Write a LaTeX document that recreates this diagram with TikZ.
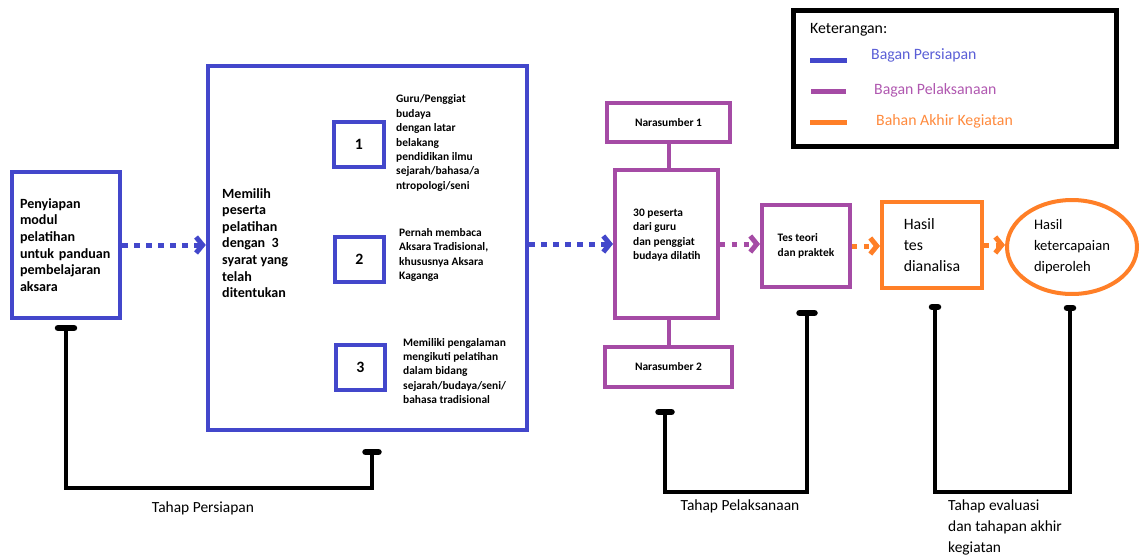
\documentclass[tikz,border=0pt]{standalone}
\usepackage{fontspec}
\setmainfont{Carlito}
\usetikzlibrary{arrows.meta,shapes.geometric}

\definecolor{bagblue}{HTML}{4347CB}
\definecolor{bagpurple}{HTML}{A54BA5}
\definecolor{bagorange}{HTML}{FF7F27}
\definecolor{txtblue}{HTML}{5A5ED6}
\definecolor{txtpurple}{HTML}{B058B0}
\definecolor{txtorange}{HTML}{FF8A3D}

\newcommand{\boxfont}{\bfseries\fontsize{8}{9.45}\selectfont}
\newcommand{\notefont}{\bfseries\fontsize{6.5}{8.2}\selectfont}
\newcommand{\plainfont}{\fontsize{9}{12.2}\selectfont}
\newcommand{\tahapfont}{\fontsize{8.8}{11.7}\selectfont}

\begin{document}
\begin{tikzpicture}[x=0.02cm,y=-0.02cm,
  bbox/.style={draw=bagblue,line width=0.09cm,fill=white},
  nbox/.style={draw=bagblue,line width=0.08cm,minimum width=1cm,minimum height=0.9cm,font=\bfseries\fontsize{9}{10}\selectfont},
  pbox/.style={draw=bagpurple,line width=0.08cm,fill=white},
  obox/.style={draw=bagorange,line width=0.08cm,fill=white},
  dotarrow/.style={line width=0.1cm,dash pattern=on 0.11cm off 0.13cm,
    -{Straight Barb[length=0.13cm,width=0.32cm]}},
  brace/.style={line width=0.09cm,black},
  endbar/.style={line width=0.13cm,black,line cap=round},
  legline/.style={line width=0.1cm}]
  \useasboundingbox (0,0) rectangle (1140,555);

  % tahap persiapan
  \node[bbox, minimum width=2.16cm, minimum height=2.92cm, text width=1.84cm,
    inner xsep=0.16cm, align=left, font=\boxfont] (prep) at (66,245)
    {Penyiapan\\modul\\pelatihan\\untuk panduan\\pembelajaran\\aksara\\[0.25cm]};
  \node[bbox, minimum width=6.38cm, minimum height=7.28cm] (pilih) at (367.5,248) {};
  \node[anchor=west, align=left, font=\boxfont] (pilihtxt) at (216,243)
    {Memilih\\peserta\\pelatihan\\dengan~ 3\\syarat yang\\telah\\ditentukan};
  \node[nbox] (s1) at (359,144.5) {1};
  \node[nbox] (s2) at (359.5,259.5) {2};
  \node[nbox] (s3) at (360.5,367.5) {3};
  \node[anchor=west, align=left, font=\notefont] (c1) at (390,143)
    {Guru/Penggiat\\budaya\\dengan latar\\belakang\\pendidikan ilmu\\sejarah/bahasa/a\\ntropologi/seni};
  \node[anchor=west, align=left, font=\notefont] (c2) at (393,255)
    {Pernah membaca\\Aksara Tradisional,\\khususnya Aksara\\Kaganga};
  \node[anchor=west, align=left, font=\notefont] (c3) at (397,371)
    {Memiliki pengalaman\\mengikuti pelatihan\\dalam bidang\\sejarah/budaya/seni/\\bahasa tradisional};

  % tahap pelaksanaan
  \node[pbox, minimum width=2.06cm, minimum height=2.96cm] (latih) at (666.5,244) {};
  \node[anchor=west, align=left, font=\notefont] (latihtxt) at (627,235)
    {30 peserta\\dari guru\\dan penggiat\\budaya dilatih};
  \node[pbox, minimum width=2.46cm, minimum height=0.78cm, font=\notefont] (nara1) at (668.5,122.5) {Narasumber 1};
  \node[pbox, minimum width=2.54cm, minimum height=0.8cm, font=\notefont] (nara2) at (668.5,367) {Narasumber 2};
  \draw[bagpurple, line width=0.08cm] (nara1.south) -- (nara1.south |- latih.north);
  \draw[bagpurple, line width=0.08cm] (latih.south -| nara1.south) -- (nara1.south |- nara2.north);
  \node[pbox, minimum width=1.76cm, minimum height=1.64cm, align=left, font=\notefont] (tes) at (806,246)
    {Tes teori\\dan praktek};

  % tahap akhir
  \node[obox, minimum width=2cm, minimum height=1.72cm, align=left, font=\plainfont] (hasil) at (932,245)
    {Hasil\\tes\\dianalisa};
  \node[obox, ellipse, minimum width=2.6cm, minimum height=1.88cm, inner sep=0pt, align=left,
    font=\fontsize{8.3}{12}\selectfont] (capai) at (1072,247) {Hasil\\ketercapaian\\diperoleh};

  % panah
  \draw[dotarrow, bagblue] (prep.east) -- (prep.east -| pilih.west);
  \draw[dotarrow, bagblue] (latih.west -| pilih.east) -- (latih.west);
  \draw[dotarrow, bagpurple] (latih.east) -- (latih.east -| tes.west);
  \draw[dotarrow, bagorange] (tes.east) -- (tes.east -| hasil.west);
  \draw[dotarrow, bagorange] (hasil.east) -- (hasil.east -| capai.west);

  % keterangan
  \node[draw, line width=0.1cm, minimum width=6.48cm, minimum height=2.74cm] (ket) at (955,78.5) {};
  \node[anchor=west, font=\plainfont] (kettxt) at (804,30) {Keterangan:};
  \coordinate (k1) at (810,60);
  \coordinate (k2) at (811,91);
  \coordinate (k3) at (810,122);
  \draw[legline, bagblue] (k1) -- ++(37,0);
  \draw[legline, bagpurple] (k2) -- ++(35,0);
  \draw[legline, bagorange] (k3) -- ++(37,0);
  \node[anchor=west, font=\plainfont, text=txtblue] (l1) at (865,55) {Bagan Persiapan};
  \node[anchor=west, font=\plainfont, text=txtpurple] (l2) at (868,90) {Bagan Pelaksanaan};
  \node[anchor=west, font=\plainfont, text=txtorange] (l3) at (870,121) {Bahan Akhir Kegiatan};

  % kurung tahap
  \coordinate (pa) at (66,328);
  \coordinate (pb) at (372,452);
  \draw[brace] (pa) -- ++(0,160) -| (pb);
  \draw[endbar] ([xshift=-0.16cm]pa) -- ([xshift=0.16cm]pa);
  \draw[endbar] ([xshift=-0.13cm]pb) -- ([xshift=0.13cm]pb);
  \node[font=\tahapfont] (tp) at (203,508) {Tahap Persiapan};

  \coordinate (la) at (665,412);
  \coordinate (lb) at (807,313);
  \draw[brace] (la) -- ++(0,80) -| (lb);
  \draw[endbar] ([xshift=-0.13cm]la) -- ([xshift=0.13cm]la);
  \draw[endbar] ([xshift=-0.15cm]lb) -- ([xshift=0.15cm]lb);
  \node[font=\tahapfont] (tl) at (740,506) {Tahap Pelaksanaan};

  \coordinate (ea) at (935,307);
  \coordinate (eb) at (1070,308);
  \draw[brace] (ea) -- ++(0,185) -| (eb);
  \draw[endbar] ([xshift=-0.06cm]ea) -- ([xshift=0.06cm]ea);
  \draw[endbar] ([xshift=-0.06cm]eb) -- ([xshift=0.06cm]eb);
  \node[anchor=north west, align=left, font=\tahapfont] (te) at (942,494)
    {Tahap evaluasi\\dan tahapan akhir\\kegiatan};
\end{tikzpicture}
\end{document}
